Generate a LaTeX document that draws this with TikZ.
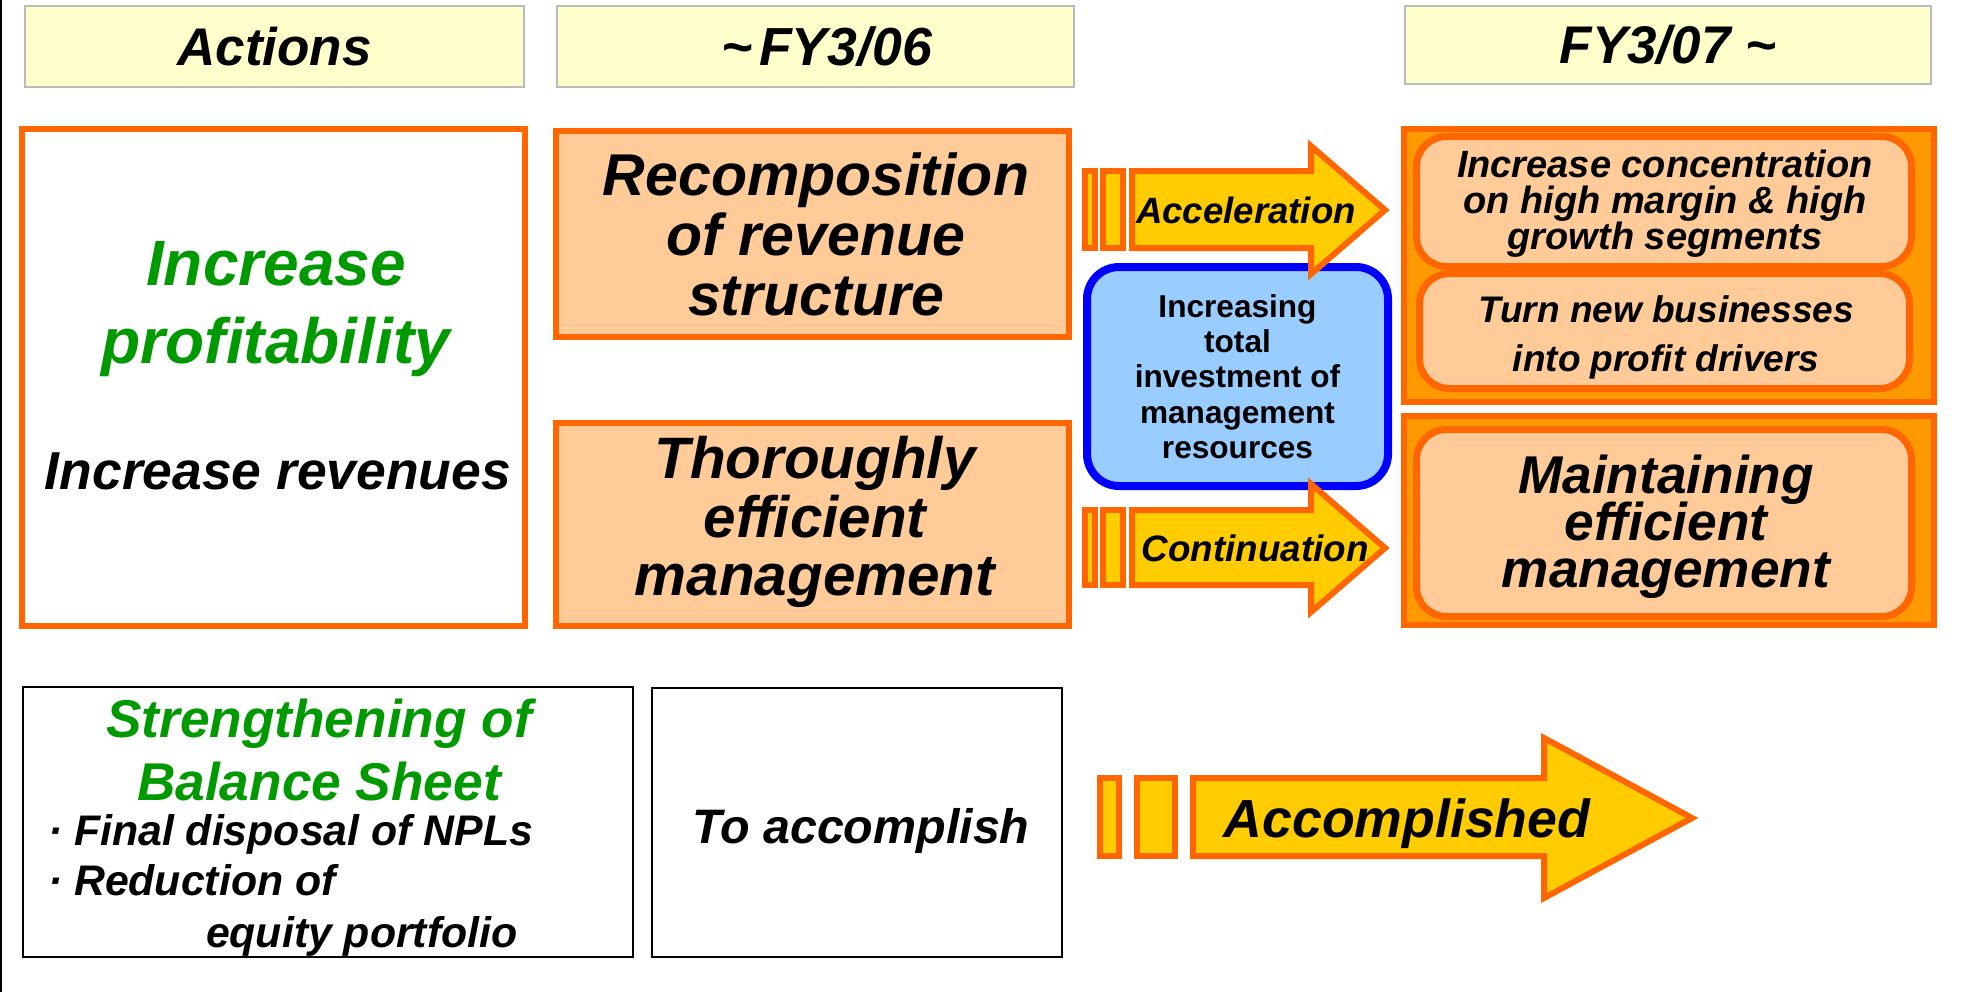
\documentclass[tikz,border=0pt]{standalone}
\usepackage{fontspec}
\setmainfont{Liberation Sans}
\definecolor{ornline}{HTML}{FF6600}
\definecolor{peach}{HTML}{FFCC99}
\definecolor{ornfill}{HTML}{FF9900}
\definecolor{arrowyel}{HTML}{FFCC00}
\definecolor{hdrfill}{HTML}{FFFFCC}
\definecolor{hdrline}{HTML}{BBBBBB}
\definecolor{grn}{HTML}{009900}
\definecolor{blueline}{HTML}{0000FF}
\definecolor{bluefill}{HTML}{99CCFF}
\newcommand{\mkf}[2]{\fontsize{#1}{#2}\selectfont\bfseries\itshape\lineskiplimit=-50pt\lineskip=0pt}
\tikzset{
  hdr/.style={draw=hdrline, fill=hdrfill, line width=1pt, font=\mkf{26.5pt}{30pt}},
  obox/.style={draw=ornline, line width=3pt},
  pbox/.style={obox, fill=peach},
  contbox/.style={draw=ornline, fill=ornfill, line width=3pt},
  ibox/.style={draw=ornline, fill=peach, line width=3.5pt, rounded corners=15pt},
  bbox/.style={draw=blueline, fill=bluefill, line width=4pt, rounded corners=16pt},
  kbox/.style={draw=black, line width=1pt},
  arr/.style={draw=ornline, fill=arrowyel, line width=3pt, line join=miter},
}
\begin{document}
\begin{tikzpicture}[x=0.5pt,y=-0.5pt]
\tikzset{every node/.style={inner sep=0pt, outer sep=0pt}}
\useasboundingbox (0,0) rectangle (1970,992);
\fill[white] (0,0) rectangle (1970,992);
\draw[line width=1pt] (1,0) -- (1,992);

% headers
\node[hdr, minimum width=249.5pt, minimum height=40.5pt] (hAct) at (274.5,46.5) {Actions};
\node[hdr, minimum width=258.5pt, minimum height=40.5pt] (hFYa) at (815.5,46.5) {};
\node[font=\mkf{26.8pt}{30pt}] (hFYatxt) at (827,47) {\textasciitilde\hspace{3pt}FY3/06};
\node[hdr, minimum width=263pt, minimum height=39pt] (hFYb) at (1668,45) {FY3/07 \textasciitilde};

% left box
\node[obox, fill=white, minimum width=251.5pt, minimum height=248.5pt] (left) at (273.5,377.5) {};
\node[font=\mkf{32pt}{39pt}, text=grn, align=center] (profit) at (276,309) {Increase\\profitability};
\node[font=\mkf{26.7pt}{30pt}] (rev) at (278,471) {Increase revenues};

% middle boxes
\node[pbox, minimum width=256.5pt, minimum height=103pt] (recomp) at (812.5,234) {};
\node[font=\mkf{29.5pt}{30pt}, align=center] (recomptxt) at (816,234) {Recomposition\\of revenue\\structure};
\node[pbox, minimum width=256.5pt, minimum height=101.5pt] (thor) at (812.5,524.5) {};
\node[font=\mkf{29.2pt}{29.25pt}, align=center] (thortxt) at (815,522) {Thoroughly\\efficient\\management};

% right containers
\node[contbox, minimum width=265pt, minimum height=136.5pt] (rtop) at (1669,265.5) {};
\node[contbox, minimum width=265pt, minimum height=104.5pt] (rbot) at (1669,520.5) {};
\node[ibox, minimum width=247.5pt, minimum height=65pt] (conc) at (1664,201.5) {};
\node[font=\mkf{19pt}{18pt}, align=center] (conctxt) at (1665,204) {Increase concentration\\on high margin \& high\\growth segments};
\node[ibox, minimum width=245pt, minimum height=57.5pt] (newbiz) at (1664.5,331) {};
\node[font=\mkf{18.5pt}{24.5pt}, align=center] (newbiztxt) at (1666,337) {Turn new businesses\\into profit drivers};
\node[ibox, minimum width=247.5pt, minimum height=93.5pt] (maint) at (1664,523) {};
\node[font=\mkf{26.6pt}{23.5pt}, align=center] (mainttxt) at (1666,527) {Maintaining\\efficient\\management};

% blue box
\node[bbox, minimum width=150.5pt, minimum height=109.5pt, font=\fontsize{15.8pt}{17.6pt}\selectfont\bfseries, align=center] (invest) at (1237.5,376.5) {Increasing\\total\\investment of\\management\\resources};

% acceleration arrow
\draw[arr] (1085,171) rectangle (1095,248);
\draw[arr] (1103,171) rectangle (1123,248);
\draw[arr] (1132,171) -- (1311,171) -- (1311,146) -- (1385,210) -- (1311,274) -- (1311,248) -- (1132,248) -- cycle;
\node[font=\mkf{18.3pt}{20pt}] (accel) at (1246,210) {Acceleration};

% continuation arrow
\draw[arr] (1085,510) rectangle (1095,585);
\draw[arr] (1103,510) rectangle (1123,585);
\draw[arr] (1132,510) -- (1311,510) -- (1311,484) -- (1385,548) -- (1311,612) -- (1311,585) -- (1132,585) -- cycle;
\node[font=\mkf{18.4pt}{20pt}] (contn) at (1255,548) {Continuation};

% bottom boxes
\node[kbox, minimum width=305pt, minimum height=135pt] (bs) at (328,822) {};
\node[font=\mkf{26.6pt}{30pt}, text=grn, anchor=base] (bsa) at (319,737) {Strengthening of};
\node[font=\mkf{26.6pt}{30pt}, text=grn, anchor=base] (bsb) at (319,800) {Balance Sheet};
\node[font=\mkf{21.4pt}{25pt}, anchor=base west] (bsc) at (48,845) {·\ Final disposal of NPLs};
\node[font=\mkf{21.4pt}{25pt}, anchor=base west] (bsd) at (48,895) {·\ Reduction of};
\node[font=\mkf{21.4pt}{25pt}, anchor=base west] (bse) at (206,947) {equity portfolio};

\node[kbox, minimum width=205pt, minimum height=134.5pt] (toacc) at (857,822.5) {};
\node[font=\mkf{24.2pt}{28pt}] (toacctxt) at (861,831) {To accomplish};

% accomplished arrow
\draw[arr] (1100,778) rectangle (1119,856);
\draw[arr] (1137,778) rectangle (1175,856);
\draw[arr] (1193,778) -- (1544,778) -- (1544,738) -- (1692,818) -- (1544,898) -- (1544,856) -- (1193,856) -- cycle;
\node[font=\mkf{26.8pt}{30pt}] (accomp) at (1407,824) {Accomplished};
\end{tikzpicture}
\end{document}
